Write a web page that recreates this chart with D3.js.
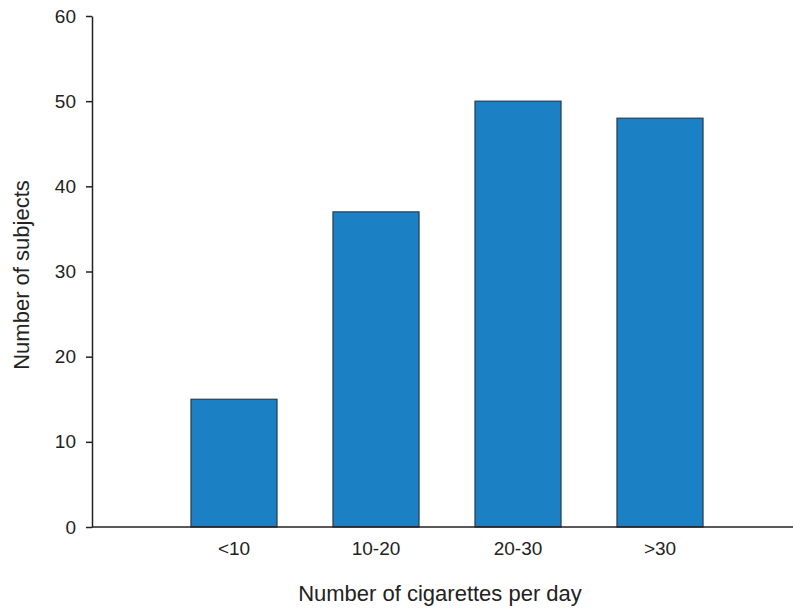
<!DOCTYPE html>
<html>
<head>
<meta charset="utf-8">
<script src="https://cdn.jsdelivr.net/npm/d3@7"></script>
<style>
  html, body { margin: 0; padding: 0; background: #fff; }
  text { font-family: "Liberation Sans", Arial, sans-serif; fill: #222; }
</style>
</head>
<body>
<svg id="chart" width="793" height="613"></svg>
<script>
const categories = ["<10", "10-20", "20-30", ">30"];
const subjects = [15, 37, 50, 48];
const yTicks = [0, 10, 20, 30, 40, 50, 60];
const xTitle = "Number of cigarettes per day";
const yTitle = "Number of subjects";

const svg = d3.select("#chart");
const axisX0 = 92, axisX1 = 793;
const y = d3.scaleLinear().domain([0, 60]).range([527, 16]);
const x = d3.scaleBand().domain(categories).range([163, 731])
  .paddingInner(0.394).paddingOuter(0.197);

// bars
svg.append("g").selectAll("rect").data(categories).join("rect")
  .attr("x", d => x(d))
  .attr("y", (d, i) => y(subjects[i]))
  .attr("width", x.bandwidth())
  .attr("height", (d, i) => y(0) - y(subjects[i]))
  .attr("fill", "#1b80c4")
  .attr("stroke", "#2b3b4a")
  .attr("stroke-width", 1.2);

// y axis
const yAxis = d3.axisLeft(y).tickValues(yTicks).tickSize(6).tickPadding(10).tickSizeOuter(0);
const gy = svg.append("g").attr("transform", `translate(${axisX0},0)`).call(yAxis);
gy.select(".domain").attr("stroke", "#222").attr("stroke-width", 1.5);
gy.selectAll(".tick line").attr("stroke", "#222").attr("stroke-width", 1.5);
gy.selectAll(".tick text").attr("font-size", 19).attr("font-family", "Liberation Sans, Arial, sans-serif").attr("fill", "#222");

// x axis line
svg.append("line").attr("x1", axisX0).attr("x2", axisX1)
  .attr("y1", y(0)).attr("y2", y(0))
  .attr("stroke", "#222").attr("stroke-width", 1.5);

// x labels
svg.append("g").selectAll("text").data(categories).join("text")
  .attr("x", d => x(d) + x.bandwidth() / 2)
  .attr("y", 555)
  .attr("text-anchor", "middle")
  .attr("font-size", 19)
  .text(d => d);

// titles
svg.append("text").attr("x", 440).attr("y", 601).attr("text-anchor", "middle")
  .attr("font-size", 22).text(xTitle);
svg.append("text").attr("transform", "translate(29,275) rotate(-90)").attr("text-anchor", "middle")
  .attr("font-size", 22).text(yTitle);
</script>
</body>
</html>
